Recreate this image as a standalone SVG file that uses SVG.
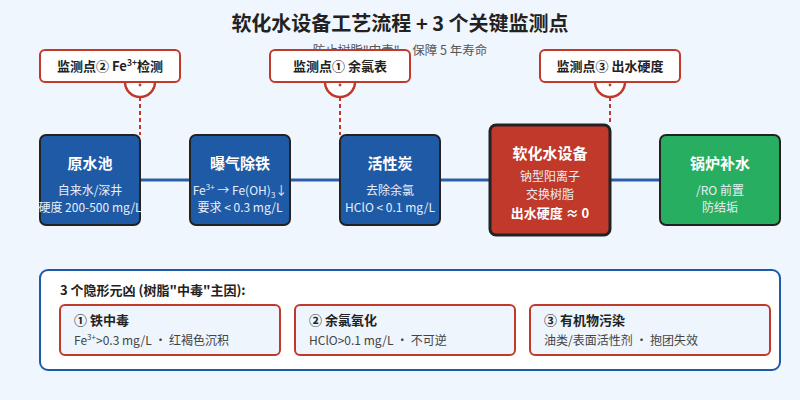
<svg xmlns="http://www.w3.org/2000/svg" width="800" height="400" viewBox="0 0 800 400">
<style>
text{font-family:"Noto Sans CJK SC","Noto Sans",sans-serif;}
.title{font-size:20px;font-weight:bold;fill:#222;text-anchor:middle;}
.subtitle{font-size:12.5px;fill:#555;text-anchor:middle;}
.callout{fill:#fff;stroke:#c0392b;stroke-width:2;}
.ctext{font-size:13px;font-weight:bold;fill:#222;text-anchor:middle;}
.anchor{fill:#fff;stroke:#c0392b;stroke-width:2.5;}
.dash{stroke:#c0392b;stroke-width:2;stroke-dasharray:4 3;fill:none;}
.node{stroke:#222;stroke-width:2;}
.blue{fill:#1f5aa6;}
.red{fill:#c0392b;stroke-width:3;}
.green{fill:#27ae60;}
.nt{font-size:15px;font-weight:bold;fill:#fff;text-anchor:middle;}
.ns{font-size:12px;fill:#e8eef8;text-anchor:middle;}
.nb{font-size:13px;font-weight:bold;fill:#fff;text-anchor:middle;}
.link{stroke:#2b5ea7;stroke-width:3;fill:none;}
.panel{fill:#fff;stroke:#1f5aa6;stroke-width:2;}
.ptitle{font-size:13px;font-weight:bold;fill:#222;}
.card{fill:#eef5fd;stroke:#c0392b;stroke-width:2;}
.kt{font-size:13px;font-weight:bold;fill:#222;}
.ks{font-size:12px;fill:#444;}
</style>
<rect width="800" height="400" fill="#f0f6fe"/>
<text class="title" x="400" y="31">软化水设备工艺流程 + 3 个关键监测点</text>
<text class="subtitle" x="400" y="55">防止树脂"中毒"，保障 5 年寿命</text>

<g id="connectors">
<line class="link" x1="140" y1="180" x2="190" y2="180"/>
<line class="link" x1="290" y1="180" x2="340" y2="180"/>
<line class="link" x1="440" y1="180" x2="490" y2="180"/>
<line class="link" x1="610" y1="180" x2="660" y2="180"/>
<line class="dash" x1="140" y1="97" x2="140" y2="135"/>
<line class="dash" x1="340" y1="97" x2="340" y2="135"/>
<line class="dash" x1="610" y1="97" x2="610" y2="125"/>
</g>

<g id="probe2">
<circle class="anchor" cx="140" cy="82" r="15"/>
<circle cx="140" cy="85" r="1.4" fill="#c0392b"/>
<rect class="callout" x="40" y="50" width="140" height="32" rx="5"/>
<text class="ctext" x="110" y="71">监测点② Fe<tspan font-size="8.5" dy="-5">3+</tspan><tspan dy="5">检测</tspan></text>
</g>
<g id="probe1">
<circle class="anchor" cx="340" cy="82" r="15"/>
<circle cx="340" cy="85" r="1.4" fill="#c0392b"/>
<rect class="callout" x="270" y="50" width="140" height="32" rx="5"/>
<text class="ctext" x="340" y="71">监测点① 余氯表</text>
</g>
<g id="probe3">
<circle class="anchor" cx="610" cy="82" r="15"/>
<circle cx="610" cy="85" r="1.4" fill="#c0392b"/>
<rect class="callout" x="540" y="50" width="140" height="32" rx="5"/>
<text class="ctext" x="610" y="71">监测点③ 出水硬度</text>
</g>

<g id="n1">
<rect class="node blue" x="40" y="135" width="100" height="90" rx="6"/>
<text class="nt" x="90" y="169">原水池</text>
<text class="ns" x="90" y="195">自来水/深井</text>
<text class="ns" x="90" y="212">硬度 200-500 mg/L</text>
</g>
<g id="n2">
<rect class="node blue" x="190" y="135" width="100" height="90" rx="6"/>
<text class="nt" x="240" y="169">曝气除铁</text>
<text class="ns" x="240" y="195">Fe<tspan font-size="8" dy="-5">3+</tspan><tspan dy="5"> → Fe(OH)</tspan><tspan font-size="8" dy="3">3</tspan><tspan dy="-3">↓</tspan></text>
<text class="ns" x="240" y="212">要求 &lt; 0.3 mg/L</text>
</g>
<g id="n3">
<rect class="node blue" x="340" y="135" width="100" height="90" rx="6"/>
<text class="nt" x="390" y="169">活性炭</text>
<text class="ns" x="390" y="195">去除余氯</text>
<text class="ns" x="390" y="212">HClO &lt; 0.1 mg/L</text>
</g>
<g id="n4">
<rect class="node red" x="490" y="125" width="120" height="110" rx="6"/>
<text class="nt" x="550" y="159">软化水设备</text>
<text class="ns" x="550" y="181">钠型阳离子</text>
<text class="ns" x="550" y="199">交换树脂</text>
<text class="nb" x="550" y="218">出水硬度 ≈ 0</text>
</g>
<g id="n5">
<rect class="node green" x="660" y="135" width="120" height="90" rx="6"/>
<text class="nt" x="720" y="169">锅炉补水</text>
<text class="ns" x="720" y="195">/RO 前置</text>
<text class="ns" x="720" y="212">防结垢</text>
</g>

<g id="panel">
<rect class="panel" x="40" y="270" width="740" height="100" rx="8"/>
<text class="ptitle" x="60" y="295">3 个隐形元凶 (树脂"中毒"主因):</text>
</g>
<g id="k1">
<rect class="card" x="60" y="305" width="220" height="50" rx="5"/>
<text class="kt" x="74" y="325">① 铁中毒</text>
<text class="ks" x="74" y="345">Fe<tspan font-size="8" dy="-5">3+</tspan><tspan dy="5">&gt;0.3 mg/L · 红褐色沉积</tspan></text>
</g>
<g id="k2">
<rect class="card" x="295" y="305" width="220" height="50" rx="5"/>
<text class="kt" x="309" y="325">② 余氯氧化</text>
<text class="ks" x="309" y="345">HClO&gt;0.1 mg/L · 不可逆</text>
</g>
<g id="k3">
<rect class="card" x="530" y="305" width="240" height="50" rx="5"/>
<text class="kt" x="544" y="325">③ 有机物污染</text>
<text class="ks" x="544" y="345">油类/表面活性剂 · 抱团失效</text>
</g>
</svg>
